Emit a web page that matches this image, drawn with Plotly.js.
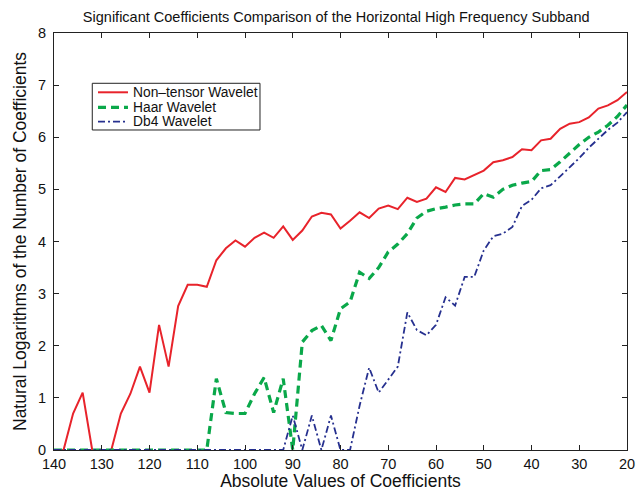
<!DOCTYPE html>
<html>
<head>
<meta charset="utf-8">
<script src="https://cdn.plot.ly/plotly-3.0.1.min.js"></script>
<style>html,body{margin:0;padding:0;background:#fff;}#chart{width:638px;height:491px;}</style>
</head>
<body>
<div id="chart"></div>
<script>
const xValues = [140,138,136,134,132,130,128,126,124,122,120,118,116,114,112,110,108,106,104,102,100,98,96,94,92,90,88,86,84,82,80,78,76,74,72,70,68,66,64,62,60,58,56,54,52,50,48,46,44,42,40,38,36,34,32,30,28,26,24,22,20];

const nonTensor = [0,0,0.7,1.1,0,0,0,0.7,1.08,1.6,1.1,2.4,1.6,2.76,3.17,3.17,3.13,3.64,3.87,4.02,3.9,4.07,4.17,4.07,4.29,4.03,4.21,4.48,4.55,4.52,4.25,4.4,4.56,4.45,4.63,4.69,4.62,4.84,4.76,4.82,5.04,4.95,5.22,5.19,5.27,5.36,5.52,5.56,5.62,5.77,5.75,5.94,5.97,6.16,6.26,6.29,6.38,6.55,6.61,6.71,6.87];

const haar = [0,0,0,0,0,0,0,0,0,0,0,0,0,0,0,0,0,1.37,0.72,0.7,0.7,1.08,1.39,0.72,1.37,0,2.07,2.29,2.39,2.1,2.71,2.84,3.41,3.29,3.5,3.8,3.95,4.15,4.45,4.58,4.63,4.66,4.7,4.72,4.72,4.92,4.85,5.0,5.08,5.12,5.15,5.36,5.38,5.53,5.7,5.86,6.0,6.1,6.23,6.4,6.62];

const db4 = [0,0,0,0,0,0,0,0,0,0,0,0,0,0,0,0,0,0,0,0,0,0,0,0,0,0.66,0,0.66,0,0.66,0,0,0.85,1.58,1.1,1.35,1.6,2.64,2.3,2.2,2.4,2.93,2.77,3.32,3.32,3.83,4.1,4.15,4.28,4.68,4.8,5.02,5.08,5.25,5.42,5.6,5.8,5.97,6.14,6.28,6.48];

const seriesNames = ['Non\u2013tensor Wavelet','Haar Wavelet','Db4 Wavelet'];
const xTicks = [140,130,120,110,100,90,80,70,60,50,40,30,20];
const yTicks = [0,1,2,3,4,5,6,7,8];

const FONT = 'Liberation Sans, Arial, Helvetica, sans-serif';
const styles = [
  {color: '#e8232b', width: 2, dash: 'solid'},
  {color: '#0aa84a', width: 3.2, dash: '8px,5px'},
  {color: '#26308f', width: 1.8, dash: '7px,3px,2px,3px'}
];
const seriesData = [nonTensor, haar, db4];

const traces = seriesData.map((ys, i) => ({
  x: xValues, y: ys, name: seriesNames[i], type: 'scatter', mode: 'lines',
  line: styles[i], showlegend: false
}));

// legend drawn in paper coordinates (box, samples, labels)
const legBox = {x0: 0.0668, x1: 0.3595, y0: 0.7674, y1: 0.8794};
const legRows = [0.8578, 0.8218, 0.7873];
const shapes = [{type: 'rect', xref: 'paper', yref: 'paper', x0: legBox.x0, x1: legBox.x1, y0: legBox.y0, y1: legBox.y1,
                 line: {color: '#222', width: 1}, fillcolor: '#fff', layer: 'above'}];
const annotations = [];
legRows.forEach((yy, i) => {
  shapes.push({type: 'line', xref: 'paper', yref: 'paper', x0: 0.0768, x1: 0.1291, y0: yy, y1: yy,
               line: {color: styles[i].color, width: styles[i].width, dash: styles[i].dash}, layer: 'above'});
  annotations.push({xref: 'paper', yref: 'paper', x: 0.1340, y: yy, xanchor: 'left', yanchor: 'middle',
                    text: seriesNames[i], showarrow: false, font: {family: FONT, size: 13.8, color: '#111'}});
});

const layout = {
  width: 638, height: 491,
  margin: {l: 54, r: 11, t: 33, b: 41, pad: 0},
  paper_bgcolor: '#fff', plot_bgcolor: '#fff',
  font: {family: FONT, color: '#111', size: 14.5},
  title: {text: 'Significant Coefficients Comparison of the Horizontal High Frequency Subband',
          font: {family: FONT, size: 14.5, color: '#111'}, x: 0.527, xanchor: 'center', y: 0.965, yanchor: 'middle'},
  showlegend: false,
  shapes: shapes,
  annotations: annotations,
  xaxis: {range: [140, 20], autorange: false, tickmode: 'array', tickvals: xTicks,
          ticktext: xTicks.map(String), ticks: 'inside', ticklen: 5, tickcolor: '#222',
          showline: true, linecolor: '#222', linewidth: 1, mirror: 'ticks', showgrid: false, zeroline: false,
          ticklabelstandoff: 1,
          tickfont: {family: FONT, size: 14.5, color: '#111'},
          title: {text: 'Absolute Values of Coefficients', font: {family: FONT, size: 17.5, color: '#111'}, standoff: 7}},
  yaxis: {range: [0, 8], autorange: false, tickmode: 'array', tickvals: yTicks,
          ticktext: yTicks.map(String), ticks: 'inside', ticklen: 5, tickcolor: '#222',
          showline: true, linecolor: '#222', linewidth: 1, mirror: 'ticks', showgrid: false, zeroline: false,
          ticklabelstandoff: 4,
          tickfont: {family: FONT, size: 14.5, color: '#111'},
          title: {text: 'Natural Logarithms of the Number of Coefficients', font: {family: FONT, size: 17.5, color: '#111'}, standoff: 6}}
};

Plotly.newPlot('chart', traces, layout, {displayModeBar: false, staticPlot: true});
</script>
</body>
</html>
